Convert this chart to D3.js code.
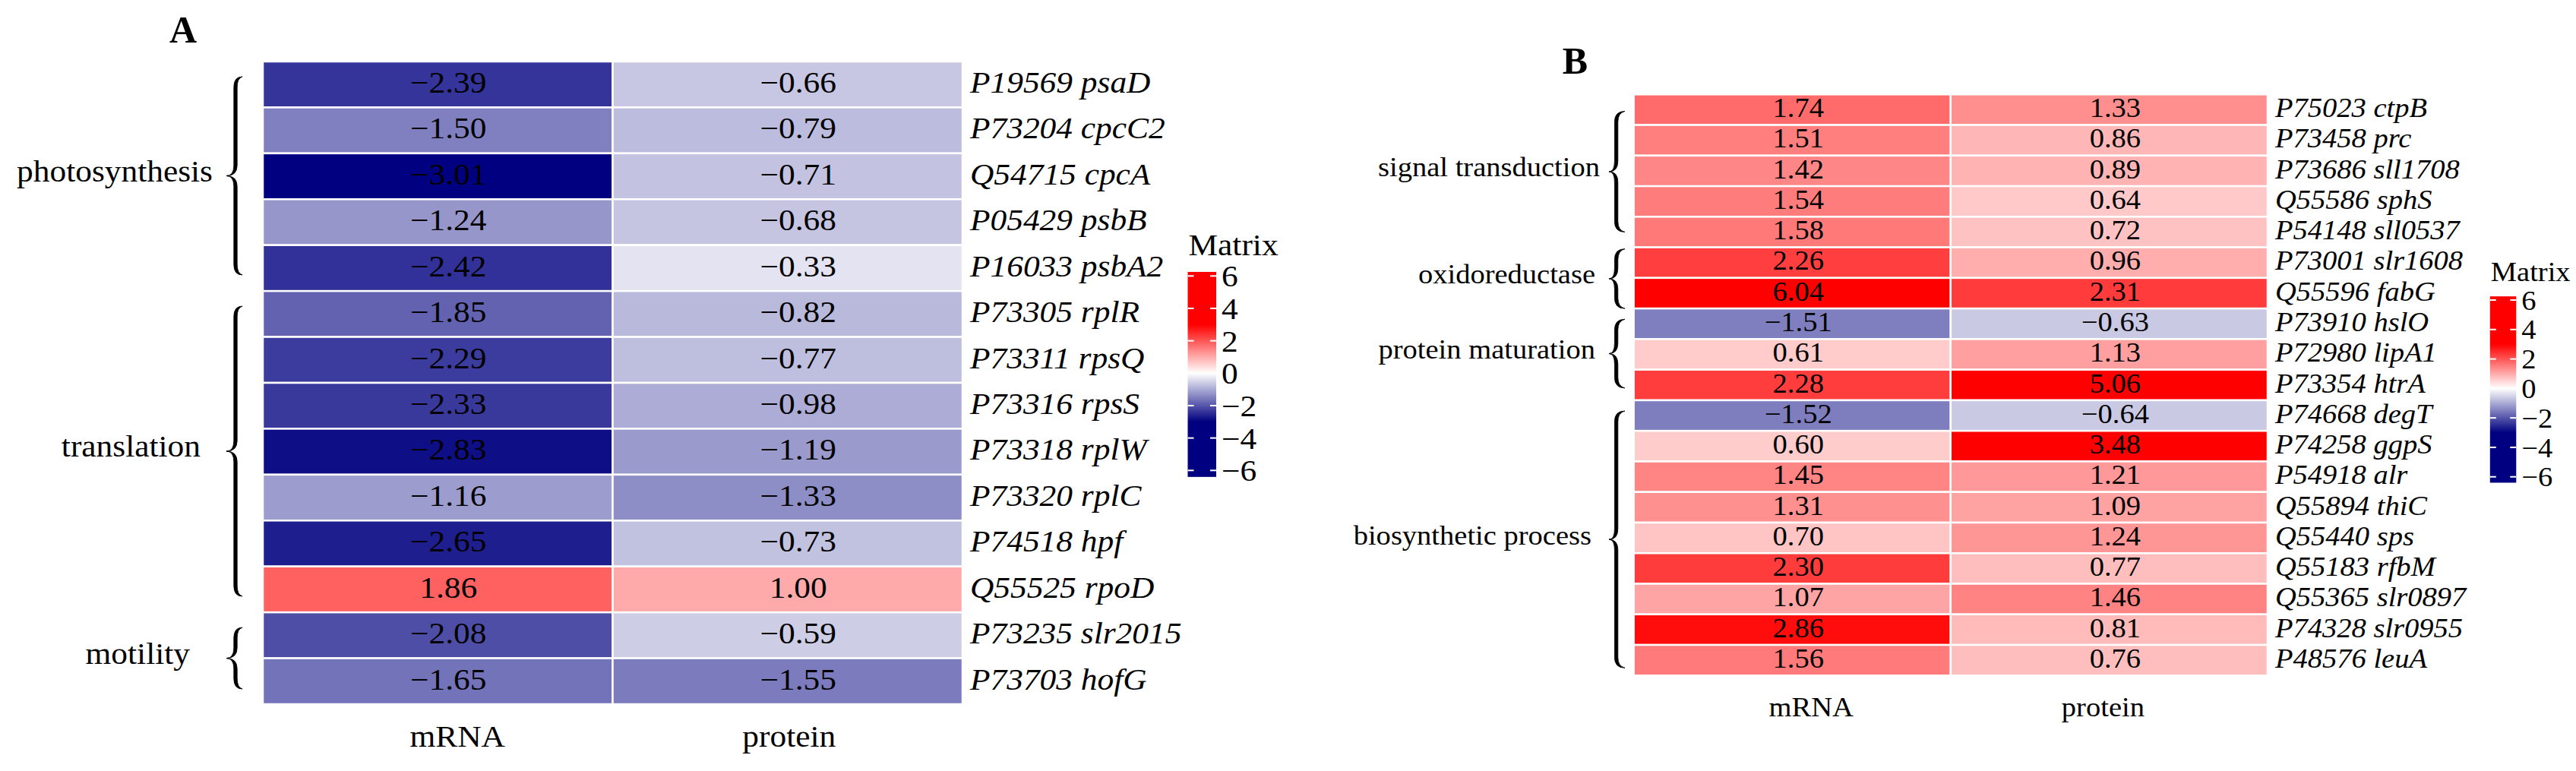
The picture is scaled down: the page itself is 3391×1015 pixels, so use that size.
<!DOCTYPE html>
<html>
<head>
<meta charset="utf-8">
<script src="https://cdn.jsdelivr.net/npm/d3@7"></script>
<style>
  body { margin: 0; background: #fff; }
  svg { display: block; }
  text { font-family: "Liberation Serif", "Times New Roman", serif; fill: #000; }
</style>
</head>
<body>
<div id="chart"></div>
<script>
// shared
var columns = ["mRNA", "protein"];
var legendTicks = [6, 4, 2, 0, -2, -4, -6];

// panel A
var genesA = ["P19569 psaD", "P73204 cpcC2", "Q54715 cpcA", "P05429 psbB", "P16033 psbA2",
  "P73305 rplR", "P73311 rpsQ", "P73316 rpsS", "P73318 rplW", "P73320 rplC", "P74518 hpf",
  "Q55525 rpoD", "P73235 slr2015", "P73703 hofG"];
var mrnaA = [-2.39, -1.50, -3.01, -1.24, -2.42, -1.85, -2.29, -2.33, -2.83, -1.16, -2.65, 1.86, -2.08, -1.65];
var proteinA = [-0.66, -0.79, -0.71, -0.68, -0.33, -0.82, -0.77, -0.98, -1.19, -1.33, -0.73, 1.00, -0.59, -1.55];
var groupsA = ["photosynthesis", "translation", "motility"];
var groupFromA = [0.33, 5.33, 12.33];   // brace extent, in rows
var groupToA = [4.65, 11.65, 13.67];

// panel B
var genesB = ["P75023 ctpB", "P73458 prc", "P73686 sll1708", "Q55586 sphS", "P54148 sll0537",
  "P73001 slr1608", "Q55596 fabG", "P73910 hslO", "P72980 lipA1", "P73354 htrA", "P74668 degT",
  "P74258 ggpS", "P54918 alr", "Q55894 thiC", "Q55440 sps", "Q55183 rfbM", "Q55365 slr0897",
  "P74328 slr0955", "P48576 leuA"];
var mrnaB = [1.74, 1.51, 1.42, 1.54, 1.58, 2.26, 6.04, -1.51, 0.61, 2.28, -1.52, 0.60, 1.45, 1.31, 0.70, 2.30, 1.07, 2.86, 1.56];
var proteinB = [1.33, 0.86, 0.89, 0.64, 0.72, 0.96, 2.31, -0.63, 1.13, 5.06, -0.64, 3.48, 1.21, 1.09, 1.24, 0.77, 1.46, 0.81, 0.76];
var groupsB = ["signal transduction", "oxidoreductase", "protein maturation", "biosynthetic process"];
var groupFromB = [0.55, 5.05, 7.35, 10.35];
var groupToB = [4.5, 7.0, 9.6, 18.75];

var width = 3391, height = 1015;

var svg = d3.select("#chart")
  .append("svg")
    .attr("width", width)
    .attr("height", height);

// navy - white - red, saturating at +-3
var color = d3.scaleLinear()
  .domain([-3, 0, 3])
  .range(["#000080", "#ffffff", "#ff0000"])
  .clamp(true);

var fmt = d3.format(".2f");
var fmtTick = d3.format("d");

function place(x, y, sx) {
  return "translate(" + x + "," + y + ") scale(" + sx + ",1)";
}

// filled "{" : thin at the ends and the tip, thicker along the body
function bracePath(xTip, xBody, xEnd, y0, y1, w) {
  var mid = (y0 + y1) / 2, r = Math.min(14, (y1 - y0) / 5);
  var a = xBody - w, b = xBody + w;
  var top = "M" + xEnd + "," + y0 +
    " Q" + a + "," + y0 + " " + a + "," + (y0 + r) +
    " L" + a + "," + (mid - r) +
    " Q" + a + "," + mid + " " + xTip + "," + mid +
    " Q" + b + "," + mid + " " + b + "," + (mid - r) +
    " L" + b + "," + (y0 + r) +
    " Q" + b + "," + (y0 + 2) + " " + xEnd + "," + y0 + "Z";
  var bot = "M" + xEnd + "," + y1 +
    " Q" + a + "," + y1 + " " + a + "," + (y1 - r) +
    " L" + a + "," + (mid + r) +
    " Q" + a + "," + mid + " " + xTip + "," + mid +
    " Q" + b + "," + mid + " " + b + "," + (mid + r) +
    " L" + b + "," + (y1 - r) +
    " Q" + b + "," + (y1 - 2) + " " + xEnd + "," + y1 + "Z";
  return top + " " + bot;
}

function drawPanel(p) {
  var g = svg.append("g");
  var n = p.genes.length;

  var x = d3.scaleBand().domain(columns).range([p.left, p.right]);
  var y = d3.scaleBand().domain(d3.range(n)).range([p.top, p.bottom]);
  var rowPos = d3.scaleLinear().domain([0, n]).range([p.top, p.bottom]);

  var cells = [];
  for (var i = 0; i < n; i++) {
    cells.push({row: i, col: "mRNA", value: p.mrna[i]});
    cells.push({row: i, col: "protein", value: p.protein[i]});
  }

  g.selectAll("rect.cell")
    .data(cells)
    .join("rect")
      .attr("class", "cell")
      .attr("x", function(d) { return x(d.col); })
      .attr("y", function(d) { return y(d.row); })
      .attr("width", x.bandwidth())
      .attr("height", y.bandwidth())
      .attr("fill", function(d) { return color(d.value); })
      .attr("stroke", "#fff")
      .attr("stroke-width", 2.5);

  g.selectAll("text.num")
    .data(cells)
    .join("text")
      .attr("class", "num")
      .attr("text-anchor", "middle")
      .attr("dy", "0.27em")
      .attr("transform", function(d) {
        return place(x(d.col) + x.bandwidth() / 2 + p.numDx, y(d.row) + y.bandwidth() / 2, p.sx);
      })
      .style("font-size", p.font + "px")
      .text(function(d) { return fmt(d.value); });

  // gene names
  g.selectAll("text.gene")
    .data(p.genes)
    .join("text")
      .attr("class", "gene")
      .attr("dy", "0.27em")
      .attr("transform", function(d, i) { return place(p.right + 10, y(i) + y.bandwidth() / 2, p.sx); })
      .style("font-size", p.font + "px")
      .style("font-style", "italic")
      .text(function(d) { return d; });

  // column names
  g.selectAll("text.col")
    .data(columns)
    .join("text")
      .attr("class", "col")
      .attr("text-anchor", "middle")
      .attr("transform", function(d, j) {
        return place(x(d) + x.bandwidth() / 2 + p.colDx[j], p.colLabelY, p.sx);
      })
      .style("font-size", p.font + "px")
      .text(function(d) { return d; });

  // group braces and names
  p.groups.forEach(function(name, k) {
    var y0 = rowPos(p.from[k]), y1 = rowPos(p.to[k]);
    g.append("path")
      .attr("d", bracePath(p.left + p.braceTip, p.left + p.braceBody, p.left + p.braceEnd, y0, y1, 2.2))
      .attr("fill", "#000")
      .attr("stroke", "#000")
      .attr("stroke-width", 0.8);
    g.append("text")
      .attr("text-anchor", "end")
      .attr("dy", "0.18em")
      .attr("transform", place(p.left + p.labelRight[k], (y0 + y1) / 2, p.sx))
      .style("font-size", p.font + "px")
      .text(name);
  });

  // panel letter
  g.append("text")
    .attr("x", p.letterX)
    .attr("y", p.letterY)
    .attr("text-anchor", "middle")
    .style("font-size", "50px")
    .style("font-weight", "bold")
    .text(p.letter);

  // colour key
  var leg = d3.scaleLinear().domain([-6, 6]).range([p.legBottom, p.legTop]);
  var barTop = leg(6.25), barBot = leg(-6.4);
  var gid = "grad" + p.letter;
  var grad = svg.append("defs").append("linearGradient")
    .attr("id", gid)
    .attr("x1", 0).attr("y1", 0).attr("x2", 0).attr("y2", 1);
  [6.25, 3, 0, -3, -6.4].forEach(function(v) {
    grad.append("stop")
      .attr("offset", (leg(v) - barTop) / (barBot - barTop))
      .attr("stop-color", color(v));
  });
  g.append("rect")
    .attr("x", p.legX)
    .attr("y", barTop)
    .attr("width", p.legW)
    .attr("height", barBot - barTop)
    .attr("fill", "url(#" + gid + ")");

  legendTicks.forEach(function(t) {
    [[p.legX, p.legX + 8], [p.legX + p.legW - 8, p.legX + p.legW]].forEach(function(s) {
      g.append("line")
        .attr("x1", s[0]).attr("x2", s[1])
        .attr("y1", leg(t)).attr("y2", leg(t))
        .attr("stroke", "#fff")
        .attr("stroke-width", 2);
    });
    g.append("text")
      .attr("dy", "0.35em")
      .attr("transform", place(p.legX + p.legW + 7, leg(t), p.sx))
      .style("font-size", p.font + "px")
      .text(fmtTick(t));
  });

  g.append("text")
    .attr("transform", place(p.legX + 1, p.matrixY, p.sx))
    .style("font-size", p.font + "px")
    .text("Matrix");
}

drawPanel({
  letter: "A", letterX: 241, letterY: 56,
  genes: genesA, mrna: mrnaA, protein: proteinA,
  groups: groupsA, from: groupFromA, to: groupToA,
  left: 346, right: 1267, top: 81, bottom: 927,
  font: 40, sx: 1.085, numDx: 14, colDx: [26, 2], colLabelY: 983,
  braceTip: -48, braceBody: -36, braceEnd: -27, labelRight: [-66, -82, -96],
  legX: 1563.5, legW: 37.5, legTop: 363.3, legBottom: 619.3, matrixY: 336
});

drawPanel({
  letter: "B", letterX: 2073.5, letterY: 96.7,
  genes: genesB, mrna: mrnaB, protein: proteinB,
  groups: groupsB, from: groupFromB, to: groupToB,
  left: 2150.6, right: 2985, top: 124.3, bottom: 889.3,
  font: 36, sx: 1.07, numDx: 8, colDx: [25, -8], colLabelY: 943,
  braceTip: -32.6, braceBody: -23, braceEnd: -11.6, labelRight: [-44.6, -50.6, -50.6, -55.6],
  legX: 3277.8, legW: 34.5, legTop: 395, legBottom: 627.7, matrixY: 370
});
</script>
</body>
</html>
